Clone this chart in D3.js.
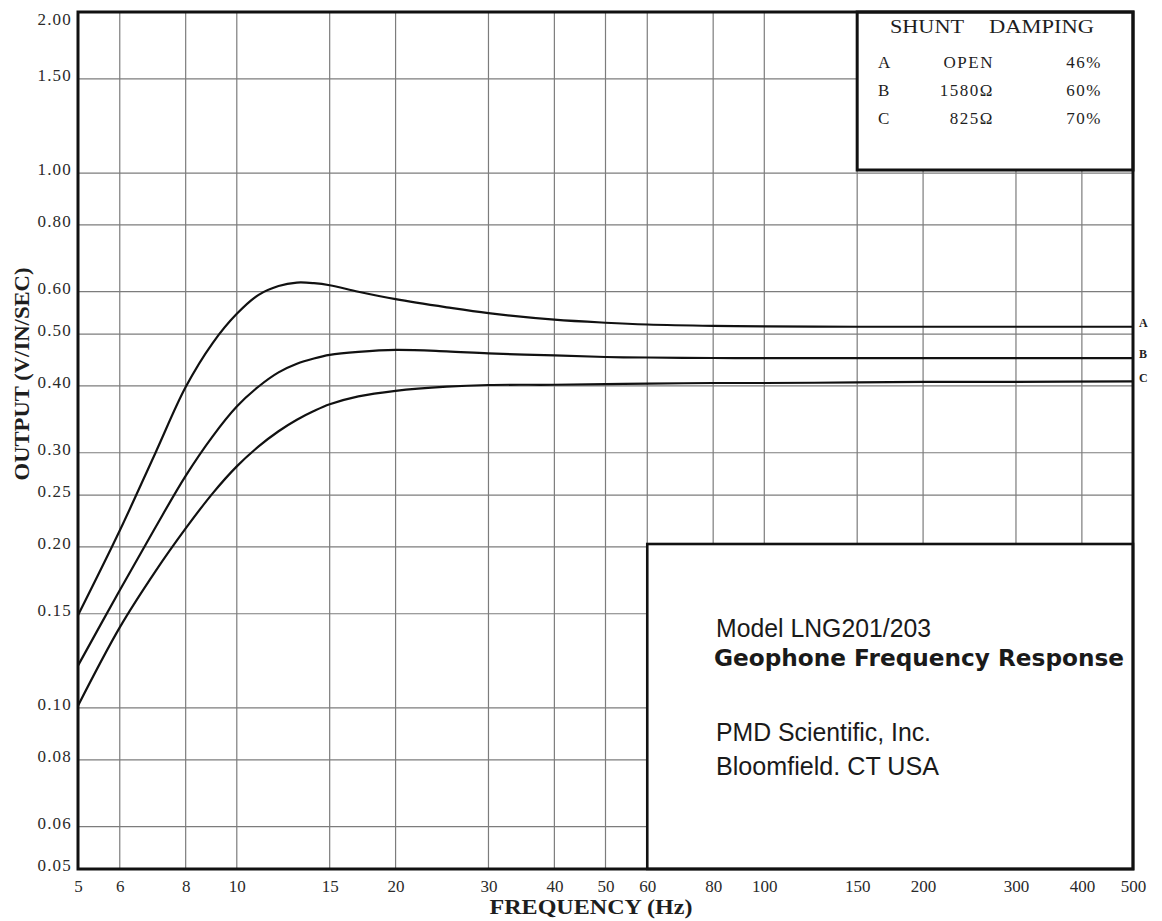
<!DOCTYPE html>
<html>
<head>
<meta charset="utf-8">
<script src="https://cdn.jsdelivr.net/npm/d3@7"></script>
<style>
  html, body { margin: 0; padding: 0; background: #fff; }
  svg { display: block; }
</style>
</head>
<body>
<svg id="chart" width="1162" height="921"></svg>
<script>
// ---------- data ----------
const freqs = [5, 6, 7, 8, 9, 10, 11, 12, 13, 14, 15, 17, 20, 25, 30, 40, 50, 60, 80, 100, 150, 200, 300, 500];
const curveA = [0.149, 0.2146, 0.2988, 0.398, 0.481, 0.5455, 0.592, 0.615, 0.624, 0.6225, 0.617, 0.600, 0.581, 0.561, 0.547, 0.532, 0.525, 0.521, 0.518, 0.517, 0.516, 0.516, 0.516, 0.516];
const curveB = [0.120, 0.166, 0.217, 0.2716, 0.322, 0.366, 0.399, 0.424, 0.440, 0.450, 0.457, 0.463, 0.467, 0.464, 0.460, 0.456, 0.453, 0.452, 0.451, 0.451, 0.451, 0.451, 0.451, 0.451];
const curveC = [0.101, 0.1415, 0.1797, 0.2166, 0.2519, 0.2829, 0.3083, 0.3291, 0.3458, 0.3589, 0.3695, 0.3823, 0.3916, 0.3987, 0.4016, 0.402, 0.403, 0.404, 0.405, 0.405, 0.406, 0.407, 0.407, 0.408];
const seriesNames = ["A", "B", "C"];
const shuntValues = ["OPEN", "1580\u03A9", "825\u03A9"];
const dampingValues = ["46%", "60%", "70%"];
const xTicks = [5, 6, 8, 10, 15, 20, 30, 40, 50, 60, 80, 100, 150, 200, 300, 400, 500];
const yTicks = [0.05, 0.06, 0.08, 0.10, 0.15, 0.20, 0.25, 0.30, 0.40, 0.50, 0.60, 0.80, 1.00, 1.50, 2.00];
const xTitle = "FREQUENCY (Hz)";
const yTitle = "OUTPUT (V/IN/SEC)";
const infoLines = ["Model LNG201/203", "Geophone Frequency Response", "PMD Scientific, Inc.", "Bloomfield. CT USA"];

// ---------- layout ----------
const L = 78, R = 1133, T = 12, B = 869;
const serif = "'Liberation Serif', 'Times New Roman', serif";
const svg = d3.select("#chart");
svg.append("rect").attr("width", 1162).attr("height", 921).attr("fill", "#fff");

const x = d3.scaleLog().domain([5, 500]).range([L, R]);
const y = d3.scaleLog().domain([0.05, 2]).range([B, T]);

// grid
const grid = svg.append("g").attr("stroke", "#7c7c7c").attr("stroke-width", 1.2);
grid.selectAll("line.v").data(xTicks.slice(1, -1)).join("line").attr("class", "v")
  .attr("x1", d => x(d)).attr("x2", d => x(d)).attr("y1", T).attr("y2", B);
grid.selectAll("line.h").data(yTicks.slice(1, -1)).join("line").attr("class", "h")
  .attr("x1", L).attr("x2", R).attr("y1", d => y(d)).attr("y2", d => y(d));

// curves
const allSeries = [curveA, curveB, curveC].map((vals, i) => ({
  name: seriesNames[i],
  pts: freqs.map((f, j) => [f, vals[j]])
}));
const line = d3.line().x(d => x(d[0])).y(d => y(d[1])).curve(d3.curveCatmullRom.alpha(0.5));
svg.append("g").selectAll("path").data(allSeries).join("path")
  .attr("d", d => line(d.pts)).attr("fill", "none")
  .attr("stroke", "#111").attr("stroke-width", 2.2);

// end labels
svg.append("g").selectAll("text").data(allSeries).join("text")
  .attr("x", R + 6).attr("y", d => y(d.pts[d.pts.length - 1][1]) - 4)
  .attr("dy", "0.35em")
  .attr("font-family", serif).attr("font-weight", "bold").attr("font-size", 12)
  .attr("fill", "#222").text(d => d.name);

// legend box (shunt / damping)
const lgX0 = x(150), lgY1 = 170;
svg.append("rect").attr("x", lgX0).attr("y", T).attr("width", R - lgX0).attr("height", lgY1 - T)
  .attr("fill", "#fff").attr("stroke", "#111").attr("stroke-width", 3);
const lg = svg.append("g").attr("font-family", serif).attr("fill", "#1e1e1e");
lg.append("text").attr("x", 890).attr("y", 33).attr("font-size", 18)
  .attr("textLength", 74).attr("lengthAdjust", "spacingAndGlyphs").text("SHUNT");
lg.append("text").attr("x", 989).attr("y", 33).attr("font-size", 18)
  .attr("textLength", 105).attr("lengthAdjust", "spacingAndGlyphs").text("DAMPING");
const rowY = [68, 96, 124];
lg.selectAll("text.k").data(seriesNames).join("text").attr("class", "k")
  .attr("x", 878).attr("y", (d, i) => rowY[i]).attr("font-size", 17)
  .text(d => d);
lg.selectAll("text.s").data(shuntValues).join("text").attr("class", "s")
  .attr("x", 994).attr("y", (d, i) => rowY[i]).attr("font-size", 17)
  .attr("text-anchor", "end").attr("letter-spacing", 1.5).text(d => d);
lg.selectAll("text.p").data(dampingValues).join("text").attr("class", "p")
  .attr("x", 1102).attr("y", (d, i) => rowY[i]).attr("font-size", 17)
  .attr("text-anchor", "end").attr("letter-spacing", 1.5).text(d => d);

// info box
const ibX0 = x(60), ibY0 = 544;
svg.append("rect").attr("x", ibX0).attr("y", ibY0).attr("width", R - ibX0).attr("height", B - ibY0)
  .attr("fill", "#fff").attr("stroke", "#111").attr("stroke-width", 2.6);
const narrow = "'Liberation Sans Narrow', 'Arial Narrow', 'Liberation Sans', Arial, sans-serif";
const infoSpec = [
  { y: 637, len: 215, family: narrow, weight: "normal", size: 25 },
  { y: 666, len: 410, family: "'DejaVu Sans', Verdana, sans-serif", weight: "bold", size: 23 },
  { y: 741, len: 215, family: narrow, weight: "normal", size: 25 },
  { y: 775, len: 223, family: narrow, weight: "normal", size: 25 }
];
svg.append("g").selectAll("text").data(infoLines).join("text")
  .attr("x", (d, i) => i === 1 ? 714 : 716)
  .attr("y", (d, i) => infoSpec[i].y)
  .attr("font-family", (d, i) => infoSpec[i].family)
  .attr("font-weight", (d, i) => infoSpec[i].weight)
  .attr("font-size", (d, i) => infoSpec[i].size)
  .attr("textLength", (d, i) => infoSpec[i].len)
  .attr("lengthAdjust", "spacingAndGlyphs")
  .attr("fill", "#1a1a1a").text(d => d);

// frame
svg.append("rect").attr("x", L).attr("y", T).attr("width", R - L).attr("height", B - T)
  .attr("fill", "none").attr("stroke", "#111").attr("stroke-width", 3);

// axes (labels only)
const xAxis = svg.append("g").attr("transform", `translate(0,${B})`)
  .call(d3.axisBottom(x).tickValues(xTicks).tickFormat(d3.format("d")).tickSize(0).tickPadding(11));
xAxis.select(".domain").remove();
xAxis.selectAll("text").attr("font-family", serif).attr("font-size", 17).attr("fill", "#2a2a2a");

const yAxis = svg.append("g").attr("transform", `translate(${L},0)`)
  .call(d3.axisLeft(y).tickValues(yTicks).tickFormat(d3.format(".2f")).tickSize(0).tickPadding(6));
yAxis.select(".domain").remove();
yAxis.selectAll("text").attr("font-family", serif).attr("font-size", 17).attr("fill", "#2a2a2a")
  .attr("letter-spacing", 1.2)
  .attr("y", d => (y(d) - 4 < T + 7 ? 7 : -4));

// titles
svg.append("text").attr("x", 591).attr("y", 914).attr("text-anchor", "middle")
  .attr("font-family", serif).attr("font-weight", "bold").attr("font-size", 20)
  .attr("textLength", 203).attr("lengthAdjust", "spacingAndGlyphs")
  .attr("fill", "#1e1e1e").text(xTitle);
svg.append("text").attr("transform", "translate(29,374) rotate(-90)").attr("text-anchor", "middle")
  .attr("font-family", serif).attr("font-weight", "bold").attr("font-size", 20)
  .attr("textLength", 213).attr("lengthAdjust", "spacingAndGlyphs")
  .attr("fill", "#1e1e1e").text(yTitle);
</script>
</body>
</html>
